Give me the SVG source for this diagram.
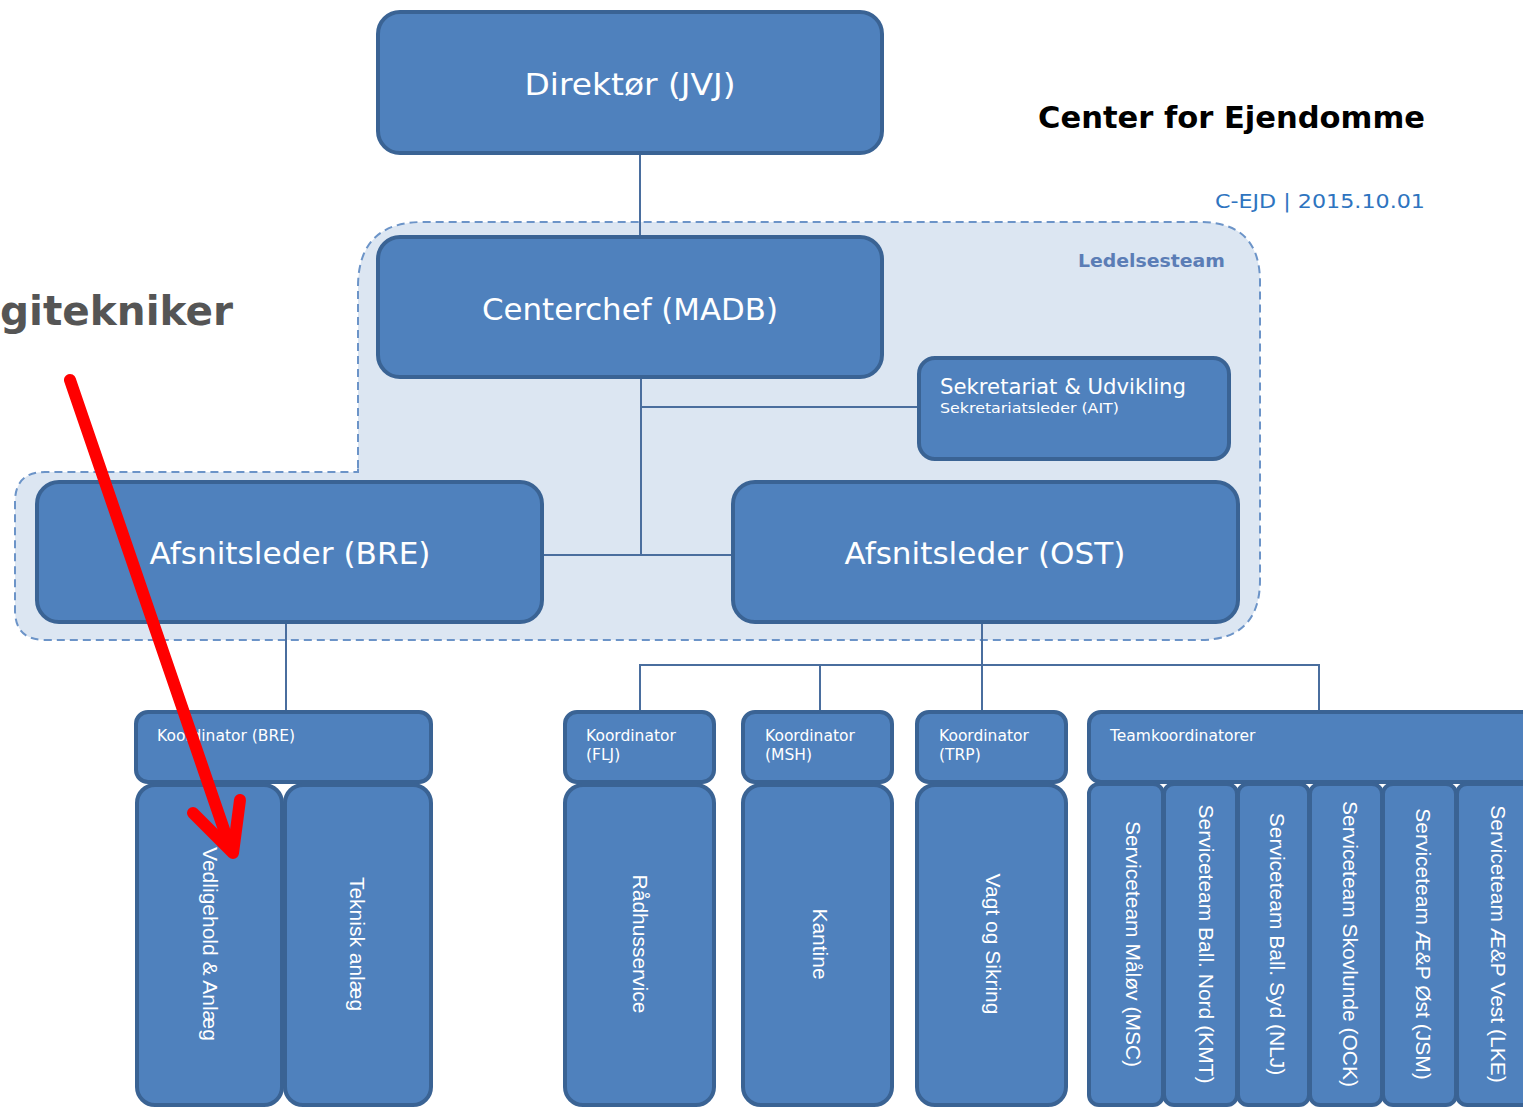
<svg xmlns="http://www.w3.org/2000/svg" width="1523" height="1108" viewBox="0 0 1523 1108">
<style>
.box{fill:#4F81BD;stroke:#3A6394;stroke-width:4}
.big{font-family:"DejaVu Sans",Verdana,sans-serif;font-size:30px;fill:#fff;text-anchor:middle}
.small{font-family:"DejaVu Sans",Verdana,sans-serif;font-size:15.5px;fill:#fff}
.vert{font-family:"Liberation Sans",Arial,sans-serif;font-size:21px;fill:#fff;text-anchor:middle;dominant-baseline:central}
.conn{stroke:#4A6E9E;stroke-width:2;fill:none}
</style>
<rect width="1523" height="1108" fill="#fff"/>
<g id="ledelsesteam">
<path d="M358,468 L358,287 Q358,222 423,222 L1200,222 Q1260,222 1260,282 L1260,580 Q1260,640 1200,640 L45,640 Q15,640 15,610 L15,502 Q15,472 45,472 L358,472 Z" fill="#DCE6F2" stroke="#6C94C8" stroke-width="2" stroke-dasharray="8,5"/>
<text x="1225" y="267" font-family="DejaVu Sans,Verdana,sans-serif" font-size="18" font-weight="bold" fill="#5B7DB6" text-anchor="end" textLength="147" lengthAdjust="spacingAndGlyphs">Ledelsesteam</text>
</g>
<g id="connectors">
<line class="conn" x1="640" y1="153" x2="640" y2="238"/>
<line class="conn" x1="641" y1="377" x2="641" y2="555"/>
<line class="conn" x1="641" y1="407" x2="918" y2="407"/>
<line class="conn" x1="542" y1="555" x2="733" y2="555"/>
<line class="conn" x1="286" y1="622" x2="286" y2="712"/>
<line class="conn" x1="982" y1="622" x2="982" y2="712"/>
<polyline class="conn" points="640,712 640,665 1319,665 1319,712"/>
<line class="conn" x1="820" y1="665" x2="820" y2="712"/>
</g>
<g id="title">
<text x="1425" y="128" font-family="DejaVu Sans,Verdana,sans-serif" font-size="30" font-weight="bold" fill="#000" text-anchor="end" textLength="387" lengthAdjust="spacingAndGlyphs">Center for Ejendomme</text>
<text x="1425" y="208" font-family="DejaVu Sans,Verdana,sans-serif" font-size="20" fill="#2E74C0" text-anchor="end" textLength="210" lengthAdjust="spacingAndGlyphs">C-EJD | 2015.10.01</text>
</g>
<g id="direktor">
<rect class="box" x="378" y="12" width="504" height="141" rx="22"/>
<text class="big" x="630" y="95" textLength="211" lengthAdjust="spacingAndGlyphs">Direktør (JVJ)</text>
</g>
<g id="centerchef">
<rect class="box" x="378" y="237" width="504" height="140" rx="22"/>
<text class="big" x="630" y="320" textLength="296" lengthAdjust="spacingAndGlyphs">Centerchef (MADB)</text>
</g>
<g id="sekretariat">
<rect class="box" x="919" y="358" width="310" height="101" rx="16" stroke-width="5"/>
<text x="940" y="394" font-family="DejaVu Sans,Verdana,sans-serif" font-size="22" fill="#fff" textLength="246" lengthAdjust="spacingAndGlyphs">Sekretariat &amp; Udvikling</text>
<text x="940" y="413" font-family="DejaVu Sans,Verdana,sans-serif" font-size="14.5" fill="#fff" textLength="179" lengthAdjust="spacingAndGlyphs">Sekretariatsleder (AIT)</text>
</g>
<g id="afsnit-bre">
<rect class="box" x="37" y="482" width="505" height="140" rx="22"/>
<text class="big" x="290" y="564" textLength="281" lengthAdjust="spacingAndGlyphs">Afsnitsleder (BRE)</text>
</g>
<g id="afsnit-ost">
<rect class="box" x="733" y="482" width="505" height="140" rx="22"/>
<text class="big" x="985" y="564" textLength="281" lengthAdjust="spacingAndGlyphs">Afsnitsleder (OST)</text>
</g>
<g id="koord-bre">
<rect class="box" x="136" y="712" width="295" height="70" rx="12"/>
<text class="small" x="157" y="741">Koordinator (BRE)</text>
<rect class="box" x="137" y="785" width="145" height="320" rx="18"/>
<text class="vert" transform="translate(210,944) rotate(90)">Vedligehold &amp; Anlæg</text>
<rect class="box" x="285" y="785" width="146" height="320" rx="18"/>
<text class="vert" transform="translate(357,944) rotate(90)">Teknisk anlæg</text>
</g>
<g id="koord-flj">
<rect class="box" x="565" y="712" width="149" height="70" rx="12"/>
<text class="small" x="586" y="741">Koordinator</text>
<text class="small" x="586" y="760">(FLJ)</text>
<rect class="box" x="565" y="785" width="149" height="320" rx="18"/>
<text class="vert" transform="translate(640,944) rotate(90)">Rådhusservice</text>
</g>
<g id="koord-msh">
<rect class="box" x="743" y="712" width="149" height="70" rx="12"/>
<text class="small" x="765" y="741">Koordinator</text>
<text class="small" x="765" y="760">(MSH)</text>
<rect class="box" x="743" y="785" width="149" height="320" rx="18"/>
<text class="vert" transform="translate(820,944) rotate(90)">Kantine</text>
</g>
<g id="koord-trp">
<rect class="box" x="917" y="712" width="149" height="70" rx="12"/>
<text class="small" x="939" y="741">Koordinator</text>
<text class="small" x="939" y="760">(TRP)</text>
<rect class="box" x="917" y="785" width="149" height="320" rx="18"/>
<text class="vert" transform="translate(993,944) rotate(90)">Vagt og Sikring</text>
</g>
<g id="teamkoordinatorer">
<rect class="box" x="1089" y="712" width="460" height="70" rx="12"/>
<text class="small" x="1110" y="741">Teamkoordinatorer</text>
<rect class="box" x="1089" y="784" width="74" height="321" rx="10"/>
<text class="vert" transform="translate(1133,944) rotate(90)">Serviceteam Måløv (MSC)</text>
<rect class="box" x="1164" y="784" width="73" height="321" rx="10"/>
<text class="vert" transform="translate(1206,944) rotate(90)">Serviceteam Ball. Nord (KMT)</text>
<rect class="box" x="1238" y="784" width="71" height="321" rx="10"/>
<text class="vert" transform="translate(1277,944) rotate(90)">Serviceteam Ball. Syd (NLJ)</text>
<rect class="box" x="1310" y="784" width="72" height="321" rx="10"/>
<text class="vert" transform="translate(1350,944) rotate(90)">Serviceteam Skovlunde (OCK)</text>
<rect class="box" x="1383" y="784" width="73" height="321" rx="10"/>
<text class="vert" transform="translate(1423,944) rotate(90)">Serviceteam Æ&amp;P Øst (JSM)</text>
<rect class="box" x="1457" y="784" width="90" height="321" rx="10"/>
<text class="vert" transform="translate(1498,944) rotate(90)">Serviceteam Æ&amp;P Vest (LKE)</text>
</g>
<g id="annotation">
<text x="0" y="325" font-family="DejaVu Sans,Verdana,sans-serif" font-size="40" font-weight="bold" fill="#555" textLength="233" lengthAdjust="spacingAndGlyphs">gitekniker</text>
<g stroke="#FF0000" stroke-width="12" stroke-linecap="round" stroke-linejoin="round" fill="none">
<line x1="70" y1="380" x2="231" y2="850"/>
<polyline points="193,813 233,853 240,800"/>
</g>
</g>
</svg>
